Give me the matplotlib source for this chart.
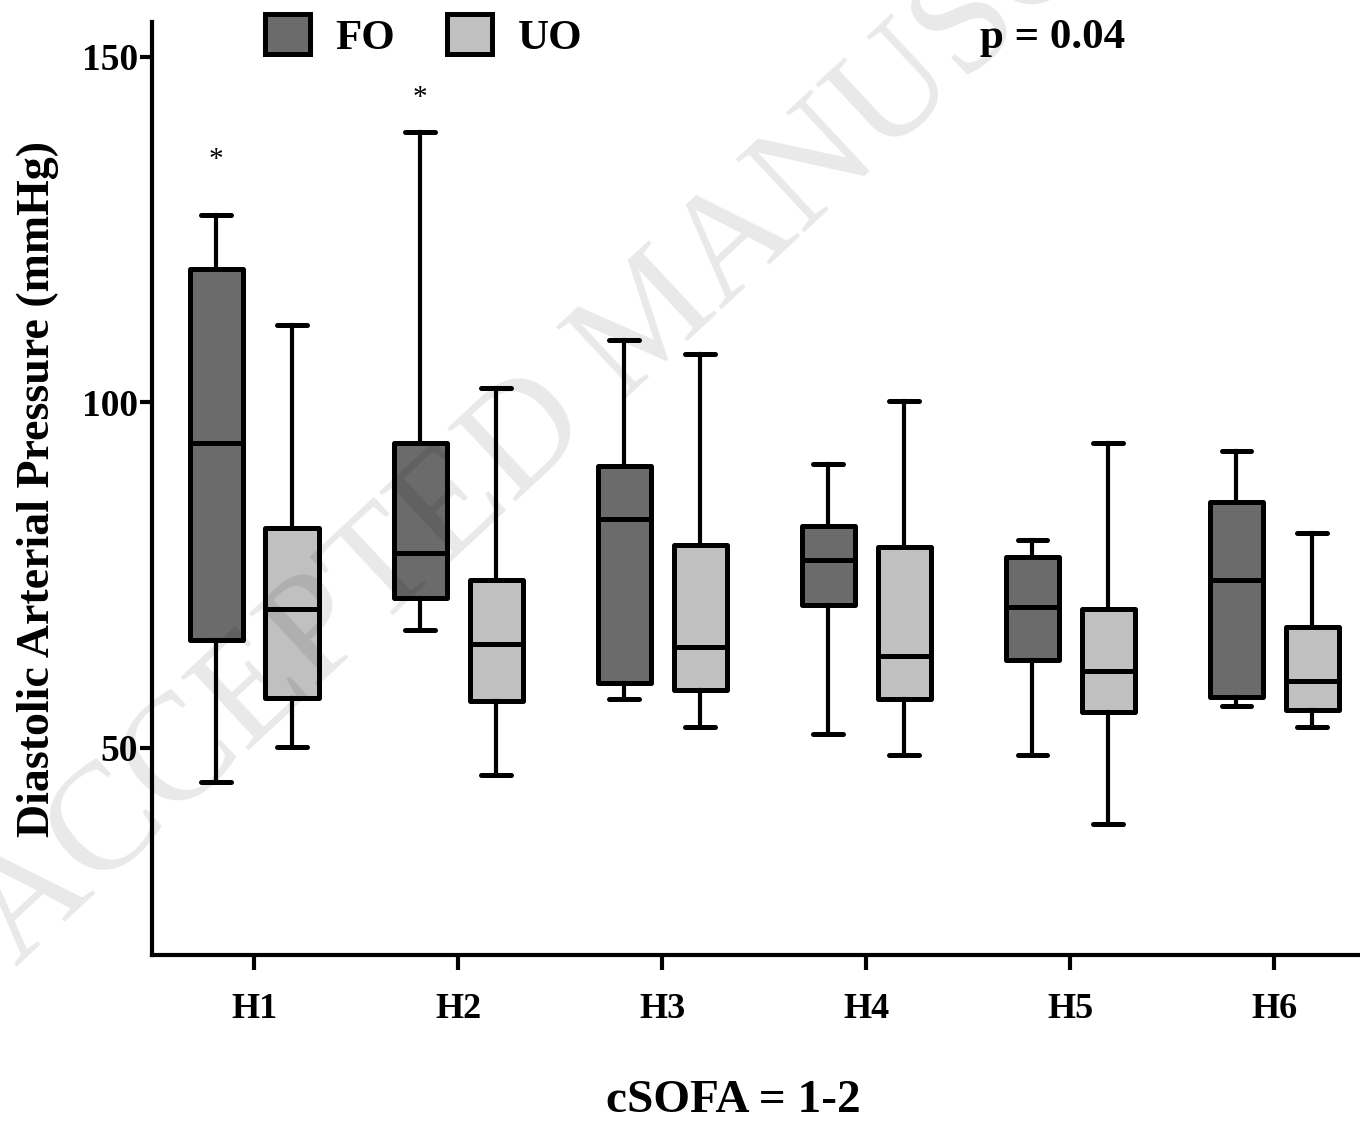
import matplotlib
matplotlib.use("Agg")
import matplotlib.pyplot as plt
from matplotlib.patches import Patch

plt.rcParams["font.family"] = ["Liberation Serif", "DejaVu Serif"]
plt.rcParams["font.weight"] = "bold"

hours = ["H1", "H2", "H3", "H4", "H5", "H6"]

# whisker low, Q1, median, Q3, whisker high
fo_low = [45.1, 67.1, 57.1, 52.0, 49.0, 56.1]
fo_q1 = [65.6, 71.7, 59.4, 70.6, 62.7, 57.4]
fo_med = [94.1, 78.2, 83.1, 77.1, 70.3, 74.2]
fo_q3 = [119.2, 94.1, 90.7, 82.1, 77.6, 85.6]
fo_high = [127.1, 139.1, 109.0, 91.1, 80.1, 93.0]

uo_low = [50.1, 46.1, 53.0, 49.0, 39.0, 53.0]
uo_q1 = [57.2, 56.7, 58.4, 57.1, 55.2, 55.5]
uo_med = [70.0, 65.0, 64.5, 63.2, 61.1, 59.7]
uo_q3 = [81.8, 74.3, 79.4, 79.1, 70.0, 67.5]
uo_high = [111.1, 102.1, 107.0, 100.1, 94.1, 81.0]

# significance marks (group index, y value)
star_idx = [0, 1]
star_y = [135.0, 144.0]

FO_COLOR = "#6b6b6b"
UO_COLOR = "#c0c0c0"


def make_stats(low, q1, med, q3, high):
    return [
        {"whislo": a, "q1": b, "med": c, "q3": d, "whishi": e, "fliers": []}
        for a, b, c, d, e in zip(low, q1, med, q3, high)
    ]


fig = plt.figure(figsize=(13.6, 11.22), dpi=100)
ax = fig.add_axes([0.1118, 0.1488, 0.8882, 0.8316])

pos = list(range(1, len(hours) + 1))
offset = 0.186
width = 0.26

lw = 3.6
common = dict(
    widths=width,
    patch_artist=True,
    showfliers=False,
    whiskerprops=dict(color="black", linewidth=3.0),
    capprops=dict(color="black", linewidth=3.6, solid_capstyle="round"),
    medianprops=dict(color="black", linewidth=3.6),
    capwidths=0.145,
)

b1 = ax.bxp(make_stats(fo_low, fo_q1, fo_med, fo_q3, fo_high),
            positions=[p - offset for p in pos],
            boxprops=dict(facecolor=FO_COLOR, edgecolor="black", linewidth=lw),
            **common)
b2 = ax.bxp(make_stats(uo_low, uo_q1, uo_med, uo_q3, uo_high),
            positions=[p + offset for p in pos],
            boxprops=dict(facecolor=UO_COLOR, edgecolor="black", linewidth=lw),
            **common)
for b in (b1, b2):
    for box in b["boxes"]:
        box.set_joinstyle("round")

for i, y in zip(star_idx, star_y):
    ax.text(pos[i] - offset, y, "*", ha="center", va="center", fontsize=21, fontweight="normal")

ax.set_xlim(0.5, 6.42)
ax.set_ylim(20, 155)
ax.set_xticks(pos)
ax.set_xticklabels(hours)
ax.set_yticks([50, 100, 150])

for s in ["top", "right"]:
    ax.spines[s].set_visible(False)
for s in ["left", "bottom"]:
    ax.spines[s].set_linewidth(3.0)

ax.tick_params(axis="y", length=9, width=3.0, labelsize=27, pad=1)
ax.tick_params(axis="x", length=11, width=3.0, labelsize=26, pad=16)
for lbl in ax.get_xticklabels() + ax.get_yticklabels():
    lbl.set_fontweight("bold")

ax.set_ylabel("Diastolic Arterial Pressure (mmHg)", fontsize=33, fontweight="bold")
ax.yaxis.set_label_coords(-0.077, 0.5)
ax.set_xlabel("cSOFA = 1-2", fontsize=34, fontweight="bold")
ax.xaxis.set_label_coords(0.481, -0.134)

handles = [
    Patch(facecolor=FO_COLOR, edgecolor="black", linewidth=3.6, label="FO"),
    Patch(facecolor=UO_COLOR, edgecolor="black", linewidth=3.6, label="UO"),
]
fig.legend(handles=handles, loc="upper left", bbox_to_anchor=(0.166, 1.022), ncol=2,
           frameon=False, fontsize=31, handlelength=1.05, handleheight=1.05,
           columnspacing=1.2, handletextpad=0.6)

fig.text(0.774, 0.966, "p = 0.04", ha="center", va="center", fontsize=31, fontweight="bold")

# watermark
fig.text(0.012, 0.138, "ACCEPTED MANUSCRIPT", ha="left", va="baseline", rotation=43,
         rotation_mode="anchor", fontsize=110, fontweight="normal", color="black",
         alpha=0.09, zorder=10)

fig.savefig("out.png", dpi=100)
